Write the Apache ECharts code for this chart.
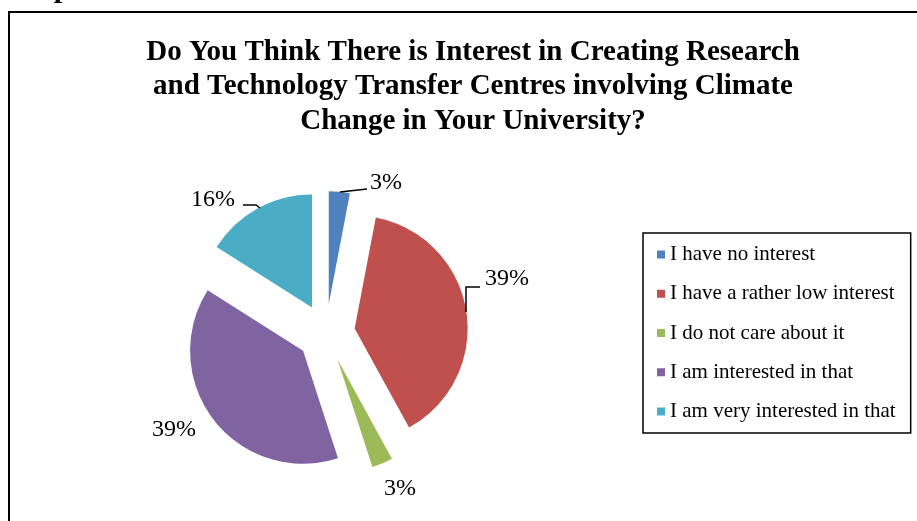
<!DOCTYPE html>
<html>
<head>
<meta charset="utf-8">
<script src="https://cdn.jsdelivr.net/npm/echarts@6/dist/echarts.min.js"></script>
<style>html,body{margin:0;padding:0;background:#fff;}#c{width:917px;height:521px;}</style>
</head>
<body>
<div id="c"></div>
<script>
var categories = ['I have no interest', 'I have a rather low interest', 'I do not care about it', 'I am interested in that', 'I am very interested in that'];
var values = [3, 39, 3, 39, 16];
var colors = ['#4F81BD', '#C0504D', '#9BBB59', '#8064A2', '#4BACC6'];
var titleText = 'Do You Think There is Interest in Creating Research\nand Technology Transfer Centres involving Climate\nChange in Your University?';

// label anchor positions (layout only)
var labelPos = [[386, 183], [507, 279], [400, 489], [174, 430], [213, 200]];
var leaderLines = [
  [[340, 192], [367, 189]],
  [[466, 312], [466, 287], [480, 287]],
  null,
  null,
  [[260, 208], [256, 205], [243, 205]]
];

var serif = '"Liberation Serif", "Times New Roman", serif';
var graphics = [
  {type: 'rect', shape: {x: 9, y: 12, width: 1000, height: 600}, style: {fill: 'none', stroke: '#000', lineWidth: 2}, silent: true},
  {type: 'text', x: 2, y: 4, style: {text: 'Graph 15.15', font: 'bold 30px ' + serif, fill: '#000', textVerticalAlign: 'bottom'}}
];
values.forEach(function (v, i) {
  graphics.push({type: 'text', x: labelPos[i][0], y: labelPos[i][1], z: 10,
    style: {text: v + '%', font: '24px ' + serif, fill: '#000', textAlign: 'center', textVerticalAlign: 'middle'}});
  if (leaderLines[i]) {
    graphics.push({type: 'polyline', z: 10, shape: {points: leaderLines[i]}, style: {stroke: '#000', lineWidth: 1.5, fill: 'none'}});
  }
});

var chart = echarts.init(document.getElementById('c'), null, {renderer: 'canvas'});
chart.setOption({
  animation: false,
  backgroundColor: '#fff',
  graphic: graphics,
  title: {
    text: titleText,
    left: 468, top: 30, textAlign: 'center',
    textStyle: {fontFamily: serif, fontWeight: 'bold', fontSize: 29, lineHeight: 34.5, color: '#000'}
  },
  legend: {
    orient: 'vertical',
    left: 643, top: 233,
    padding: [11, 15, 11, 14],
    borderColor: '#000', borderWidth: 1.5,
    itemWidth: 8, itemHeight: 8, itemGap: 18.25,
    icon: 'rect',
    selectedMode: false,
    textStyle: {fontFamily: serif, fontSize: 21, lineHeight: 21, color: '#000'},
    data: categories
  },
  series: [{
    type: 'pie',
    center: [326, 333],
    radius: [0, 113],
    startAngle: 90,
    clockwise: true,
    selectedMode: 'multiple',
    selectedOffset: 29,
    avoidLabelOverlap: false,
    emphasis: {disabled: true},
    itemStyle: {borderWidth: 0},
    label: {show: false},
    labelLine: {show: false},
    data: categories.map(function (c, i) {
      return {name: c, value: values[i], selected: true, itemStyle: {color: colors[i]}};
    })
  }]
});
</script>
</body>
</html>
